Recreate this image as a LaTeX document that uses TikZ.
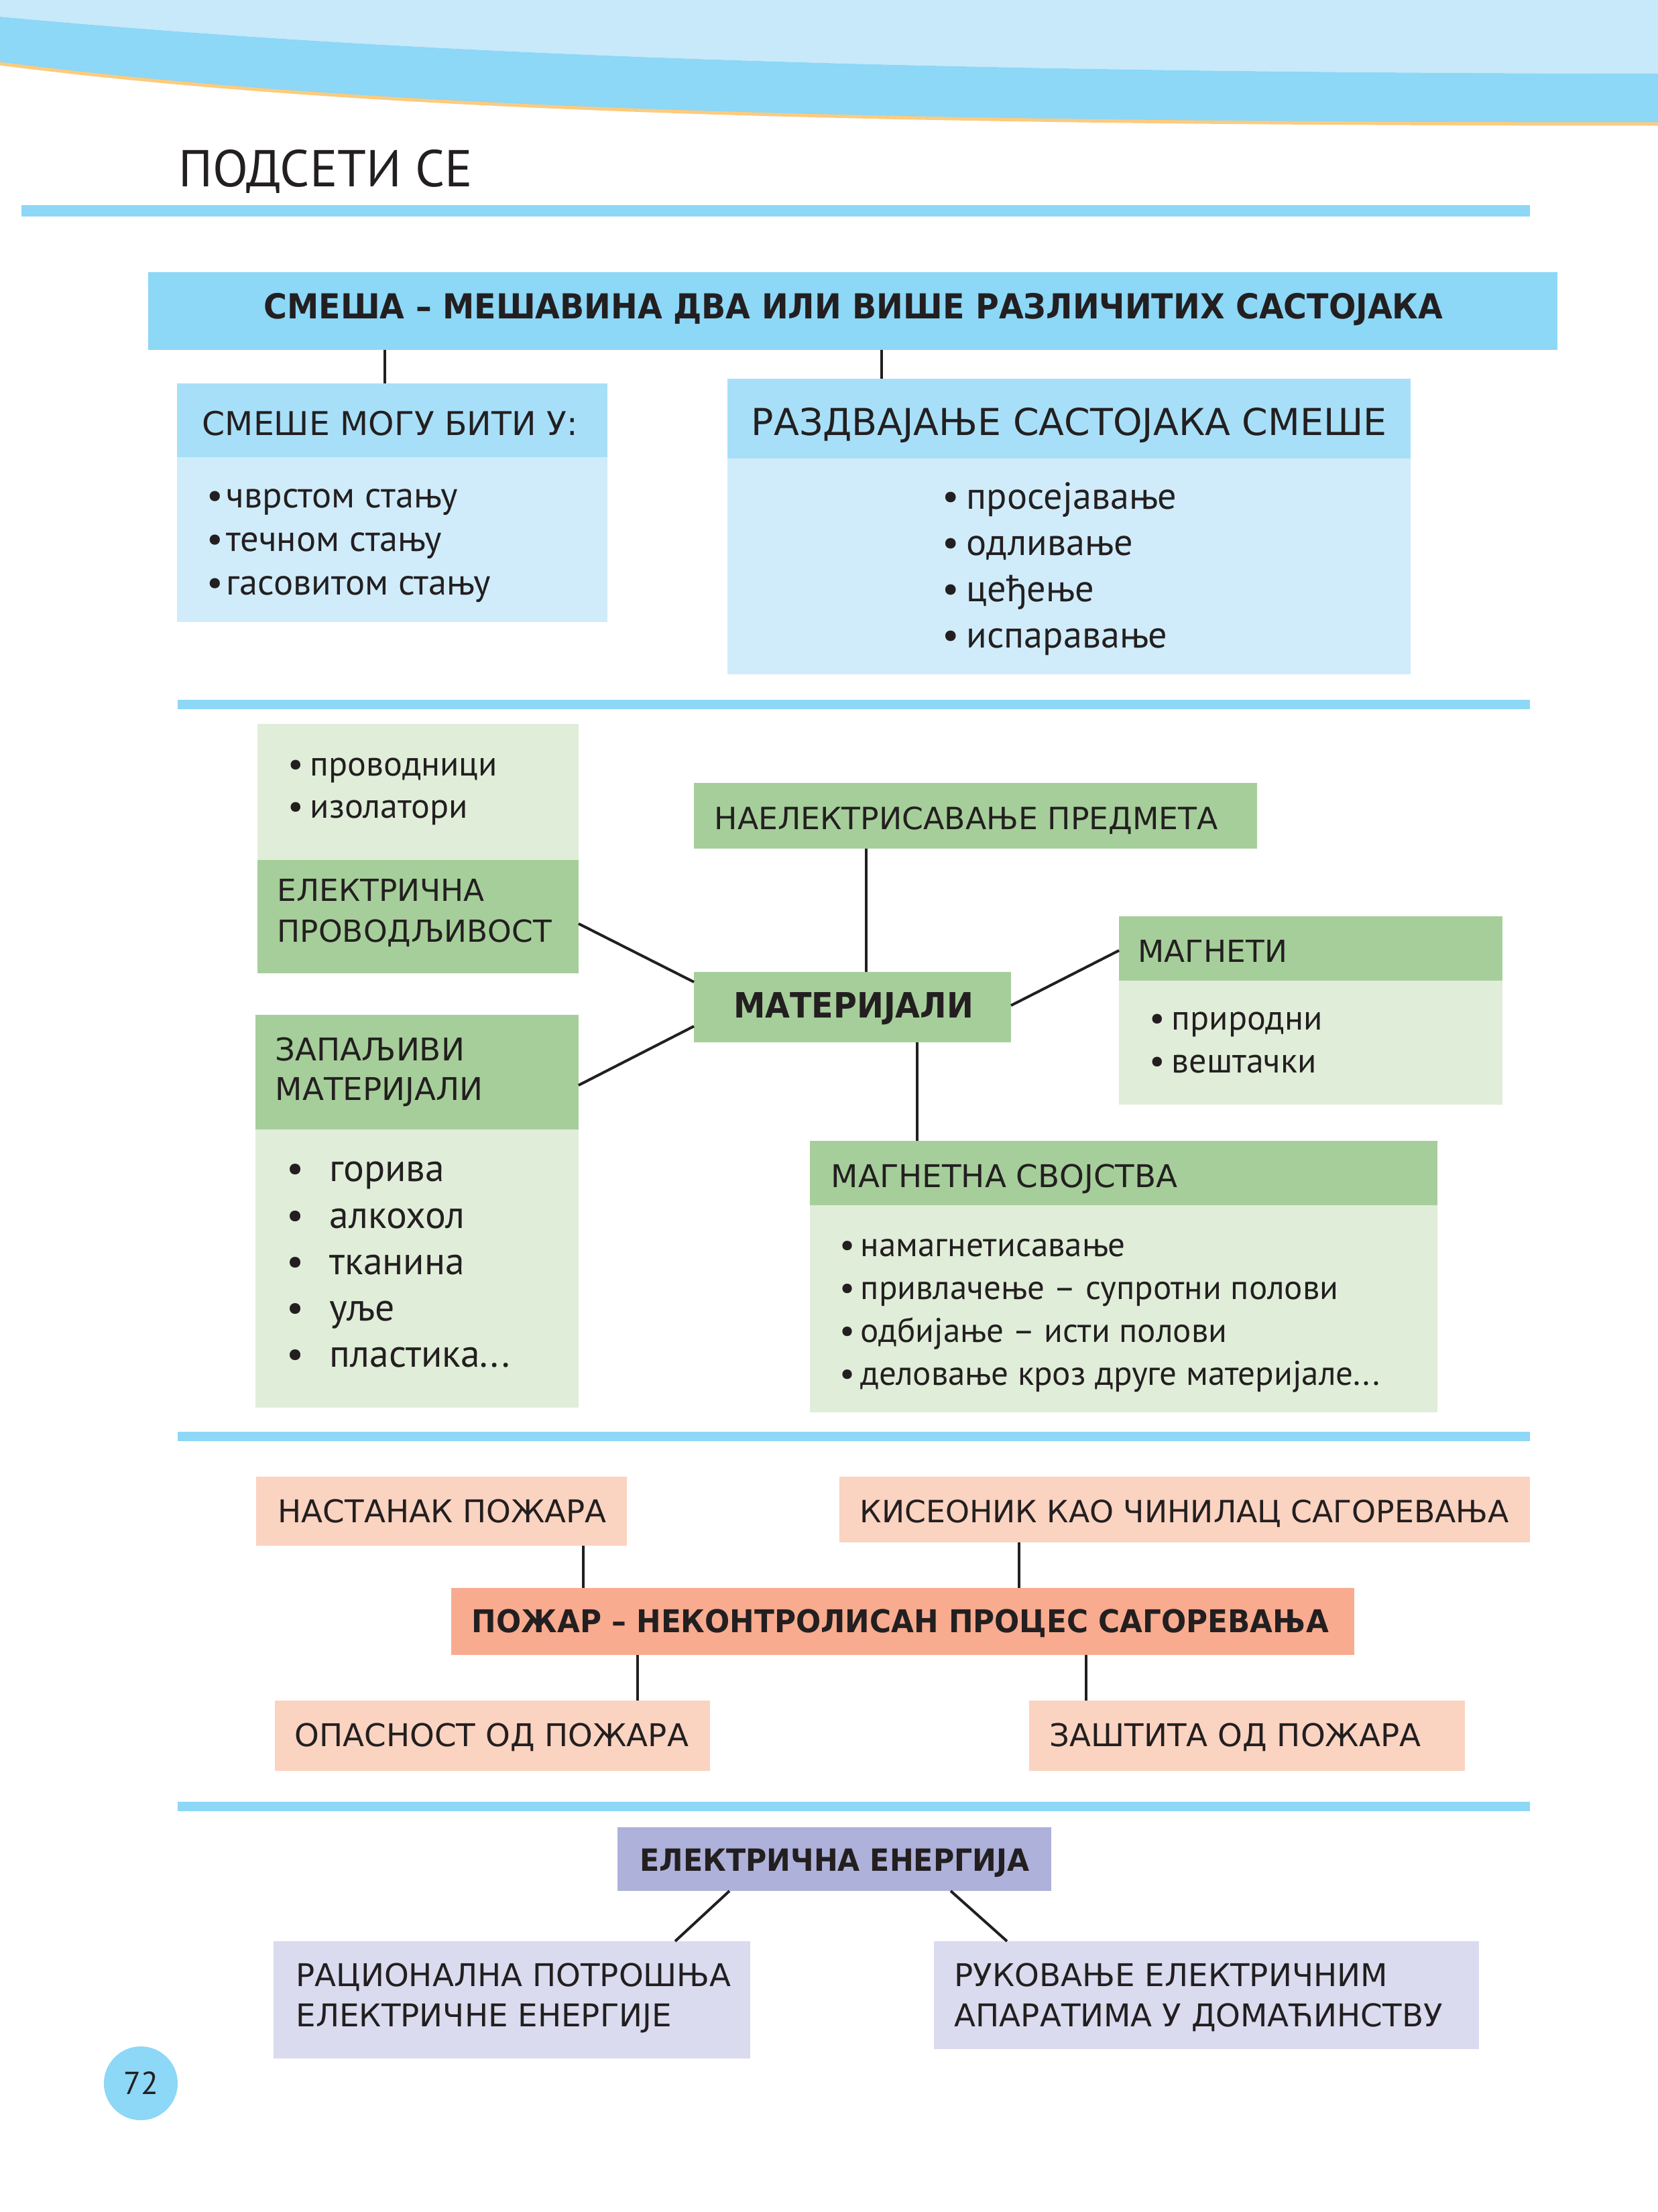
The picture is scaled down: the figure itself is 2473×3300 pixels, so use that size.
\documentclass[tikz,border=0pt]{standalone}
\usepackage{fontspec}
\setmainfont{PT Sans}
\newfontfamily\capsf{DejaVu Sans}
\newfontfamily\boldA{DejaVu Sans}[FakeStretch=0.925]
\newfontfamily\boldB{DejaVu Sans}[FakeStretch=0.935]
\newfontfamily\boldC{DejaVu Sans}[FakeStretch=0.915]
\definecolor{sky}{HTML}{8DD7F7}
\definecolor{waveL}{HTML}{C7E9F9}
\definecolor{waveEdge}{HTML}{FCCB7E}
\definecolor{blueH}{HTML}{A8DFF8}
\definecolor{blueL}{HTML}{D0ECFA}
\definecolor{greenH}{HTML}{A6CE9A}
\definecolor{greenL}{HTML}{E0EDD9}
\definecolor{salL}{HTML}{FBD3C1}
\definecolor{salH}{HTML}{F8AB8F}
\definecolor{purH}{HTML}{AEB1DA}
\definecolor{purL}{HTML}{DADBEF}
\definecolor{ink}{HTML}{231F20}
\newcommand\fsH{\capsf\fontsize{13.3}{16}\selectfont}
\newcommand\fsL{\fontsize{14.5}{17}\selectfont}
\newcommand\bul[1]{\makebox[#1][l]{\textbullet}}
\newcommand\bx[6]{\node[bxs, fill=#2, minimum width={(#5-#3)*0.01cm}, minimum height={(#6-#4)*0.01cm}] (#1) at (#3,#4) {};}
\tikzset{
  bxs/.style={inner sep=0pt, outer sep=0pt, draw=none, anchor=north west},
  lbl/.style={inner sep=0pt, anchor=base west, text=ink, font=\fsH},
  blbl/.style={inner sep=0pt, anchor=base, text=ink},
  itm/.style={inner sep=0pt, anchor=base west, text=ink, font=\fsL},
  conn/.style={draw=ink, line width=0.04cm},
}
\begin{document}
\begin{tikzpicture}[x=0.01cm, y=-0.01cm]
\useasboundingbox[fill=white] (0,0) rectangle (2473,3300);
% top wave
\fill[waveL] (0,0) -- (2473,0) -- (2473,110) .. controls (1300,108) and (600,80) .. (0,25) -- cycle;
\fill[sky] (0,25) .. controls (600,80) and (1300,108) .. (2473,110) -- (2473,185) .. controls (1300,185) and (550,165) .. (0,95) -- cycle;
\draw[waveEdge, line width=0.05cm] (0,95) .. controls (550,165) and (1300,185) .. (2473,185);
% title
\node[inner sep=0pt, anchor=base west, text=ink, font=\fontsize{22}{26}\selectfont] (title) at (266,278) {ПОДСЕТИ СЕ};
\fill[sky] (32,306) rectangle (2282,323);
% section 1
\bx{t0}{sky}{221}{406}{2323}{522}
\node[blbl, font=\boldA\bfseries\fontsize{14.6}{17}\selectfont] (t0t) at (1273,475) {СМЕША – МЕШАВИНА ДВА ИЛИ ВИШЕ РАЗЛИЧИТИХ САСТОЈАКА};
\bx{h1}{blueH}{264}{572}{906}{682}
\bx{b1}{blueL}{264}{682}{906}{928}
\node[lbl, font=\capsf\fontsize{13.9}{16}\selectfont] (h1t) at (301,649) {СМЕШЕ МОГУ БИТИ У:};
\node[itm, font=\fontsize{15.5}{18}\selectfont] (b1a) at (308,757) {\bul{0.29cm}чврстом стању};
\node[itm, font=\fontsize{15.5}{18}\selectfont] (b1b) at (308,822) {\bul{0.29cm}течном стању};
\node[itm, font=\fontsize{15.5}{18}\selectfont] (b1c) at (308,887) {\bul{0.29cm}гасовитом стању};
\bx{h2}{blueH}{1085}{565}{2104}{684}
\bx{b2}{blueL}{1085}{684}{2104}{1006}
\node[lbl, font=\capsf\fontsize{15.75}{18}\selectfont] (h2t) at (1120,649) {РАЗДВАЈАЊЕ САСТОЈАКА СМЕШЕ};
\node[itm, font=\fontsize{16}{19}\selectfont] (b2a) at (1405,759) {\bul{0.36cm}просејавање};
\node[itm, font=\fontsize{16}{19}\selectfont] (b2b) at (1405,828) {\bul{0.36cm}одливање};
\node[itm, font=\fontsize{16}{19}\selectfont] (b2c) at (1405,897) {\bul{0.36cm}цеђење};
\node[itm, font=\fontsize{16}{19}\selectfont] (b2d) at (1405,966) {\bul{0.36cm}испаравање};
\draw[conn] (t0.south -| 574,0) -- (h1.north -| 574,0);
\draw[conn] (t0.south -| 1315,0) -- (h2.north -| 1315,0);
\fill[sky] (265,1044) rectangle (2282,1058);
% section 2
\bx{epL}{greenL}{384}{1080}{863}{1283}
\bx{ep}{greenH}{384}{1283}{863}{1452}
\node[itm, font=\fontsize{14.8}{17}\selectfont] (epa) at (429,1157) {\bul{0.33cm}проводници};
\node[itm, font=\fontsize{14.8}{17}\selectfont] (epb) at (429,1220) {\bul{0.33cm}изолатори};
\node[lbl, font=\capsf\fontsize{12.9}{16}\selectfont] (ept1) at (413,1344) {ЕЛЕКТРИЧНА};
\node[lbl, font=\capsf\fontsize{12.9}{16}\selectfont] (ept2) at (413,1405) {ПРОВОДЉИВОСТ};
\bx{nae}{greenH}{1035}{1168}{1875}{1266}
\node[lbl, font=\capsf\fontsize{13.0}{16}\selectfont] (naet) at (1065,1237) {НАЕЛЕКТРИСАВАЊЕ ПРЕДМЕТА};
\bx{mat}{greenH}{1035}{1450}{1508}{1555}
\node[blbl, font=\boldC\bfseries\fontsize{14.8}{17}\selectfont] (matt) at (1273,1518) {МАТЕРИЈАЛИ};
\bx{mg}{greenH}{1669}{1367}{2241}{1463}
\bx{mgL}{greenL}{1669}{1463}{2241}{1648}
\node[lbl, font=\capsf\fontsize{12.9}{16}\selectfont] (mgt) at (1697,1435) {МАГНЕТИ};
\node[itm, font=\fontsize{14.8}{17}\selectfont] (mga) at (1714,1536) {\bul{0.33cm}природни};
\node[itm, font=\fontsize{14.8}{17}\selectfont] (mgb) at (1714,1600) {\bul{0.33cm}вештачки};
\bx{zm}{greenH}{381}{1514}{863}{1685}
\bx{zmL}{greenL}{381}{1685}{863}{2100}
\node[lbl] (zmt1) at (410,1582) {ЗАПАЉИВИ};
\node[lbl] (zmt2) at (410,1641) {МАТЕРИЈАЛИ};
\node[itm, font=\fontsize{16.4}{19}\selectfont] (zma) at (427,1762) {\bul{0.64cm}горива};
\node[itm, font=\fontsize{16.4}{19}\selectfont] (zmb) at (427,1832) {\bul{0.64cm}алкохол};
\node[itm, font=\fontsize{16.4}{19}\selectfont] (zmc) at (427,1901) {\bul{0.64cm}тканина};
\node[itm, font=\fontsize{16.4}{19}\selectfont] (zmd) at (427,1970) {\bul{0.64cm}уље};
\node[itm, font=\fontsize{16.4}{19}\selectfont] (zme) at (427,2039) {\bul{0.64cm}пластика...};
\bx{ms}{greenH}{1208}{1702}{2144}{1798}
\bx{msL}{greenL}{1208}{1798}{2144}{2107}
\node[lbl] (mst) at (1239,1771) {МАГНЕТНА СВОЈСТВА};
\node[itm] (msa) at (1252,1874) {\bul{0.31cm}намагнетисавање};
\node[itm] (msb) at (1252,1938) {\bul{0.31cm}привлачење – супротни полови};
\node[itm] (msc) at (1252,2002) {\bul{0.31cm}одбијање – исти полови};
\node[itm] (msd) at (1252,2066) {\bul{0.31cm}деловање кроз друге материјале...};
\draw[conn] (nae.south -| 1292,0) -- (mat.north -| 1292,0);
\draw[conn] (mat.south -| 1368,0) -- (ms.north -| 1368,0);
\draw[conn] (ep.east |- 0,1378) -- (mat.west |- 0,1465);
\draw[conn] (zm.east |- 0,1619) -- (mat.west |- 0,1531);
\draw[conn] (mat.east |- 0,1500) -- (mg.west |- 0,1418);
\fill[sky] (265,2136) rectangle (2282,2150);
% section 3
\bx{nast}{salL}{382}{2203}{935}{2306}
\node[lbl] (nastt) at (414,2271) {НАСТАНАК ПОЖАРА};
\bx{kis}{salL}{1252}{2203}{2282}{2301}
\node[lbl, font=\capsf\fontsize{13.0}{16}\selectfont] (kist) at (1282,2271) {КИСЕОНИК КАО ЧИНИЛАЦ САГОРЕВАЊА};
\bx{poz}{salH}{673}{2369}{2020}{2469}
\node[blbl, font=\boldB\bfseries\fontsize{13.3}{16}\selectfont] (pozt) at (1343,2435) {ПОЖАР – НЕКОНТРОЛИСАН ПРОЦЕС САГОРЕВАЊА};
\bx{opas}{salL}{410}{2537}{1059}{2642}
\node[lbl] (opast) at (439,2605) {ОПАСНОСТ ОД ПОЖАРА};
\bx{zast}{salL}{1535}{2537}{2185}{2642}
\node[lbl] (zastt) at (1565,2605) {ЗАШТИТА ОД ПОЖАРА};
\draw[conn] (nast.south -| 870,0) -- (poz.north -| 870,0);
\draw[conn] (kis.south -| 1520,0) -- (poz.north -| 1520,0);
\draw[conn] (poz.south -| 951,0) -- (opas.north -| 951,0);
\draw[conn] (poz.south -| 1620,0) -- (zast.north -| 1620,0);
\fill[sky] (265,2688) rectangle (2282,2702);
% section 4
\bx{ee}{purH}{921}{2726}{1568}{2821}
\node[blbl, font=\boldB\bfseries\fontsize{13.0}{16}\selectfont] (eet) at (1245,2791) {ЕЛЕКТРИЧНА ЕНЕРГИЈА};
\bx{rac}{purL}{408}{2896}{1119}{3071}
\node[lbl] (rac1) at (441,2963) {РАЦИОНАЛНА ПОТРОШЊА};
\node[lbl] (rac2) at (441,3023) {ЕЛЕКТРИЧНЕ ЕНЕРГИЈЕ};
\bx{ruk}{purL}{1393}{2896}{2206}{3057}
\node[lbl] (ruk1) at (1423,2963) {РУКОВАЊЕ ЕЛЕКТРИЧНИМ};
\node[lbl] (ruk2) at (1423,3023) {АПАРАТИМА У ДОМАЋИНСТВУ};
\draw[conn] (ee.south -| 1088,0) -- (rac.north -| 1007,0);
\draw[conn] (ee.south -| 1418,0) -- (ruk.north -| 1502,0);
% page number
\node[circle, fill=sky, minimum size=1.1cm, inner sep=0pt, text=ink, font=\fontsize{13.5}{16}\selectfont] (pg) at (210,3108) {72};
\end{tikzpicture}
\end{document}
